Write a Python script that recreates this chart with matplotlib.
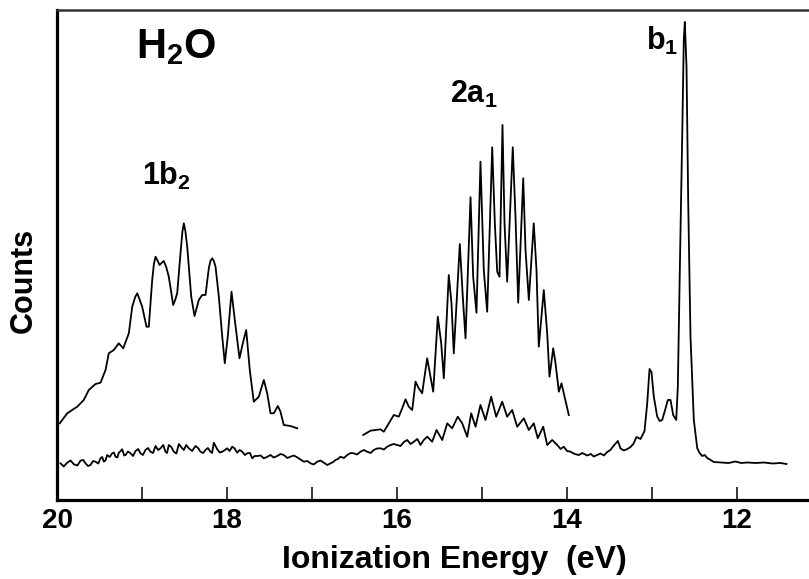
import numpy as np
import matplotlib
matplotlib.use("Agg")
import matplotlib.pyplot as plt
from matplotlib.ticker import MultipleLocator

plt.rcParams['font.family'] = ['Liberation Sans', 'DejaVu Sans']
plt.rcParams['font.weight'] = 'bold'
plt.rcParams['mathtext.fontset'] = 'custom'
plt.rcParams['mathtext.bf'] = 'Liberation Sans:bold'
plt.rcParams['mathtext.rm'] = 'Liberation Sans:bold'
plt.rcParams['mathtext.default'] = 'bf'

# ---- Data (ionization energy in eV, counts in arbitrary units) ----
full_energy = [19.959, 19.92, 19.88, 19.84, 19.802, 19.76, 19.724, 19.69, 19.665, 19.635,
               19.606, 19.575, 19.547, 19.515, 19.488, 19.468, 19.449, 19.43, 19.409, 19.38,
               19.351, 19.33, 19.312, 19.29, 19.273, 19.25, 19.233, 19.21, 19.194, 19.165,
               19.135, 19.105, 19.076, 19.045, 19.018, 18.99, 18.959, 18.93, 18.9, 18.87,
               18.841, 18.81, 18.782, 18.75, 18.724, 18.705, 18.685, 18.655, 18.626, 18.595,
               18.567, 18.535, 18.508, 18.48, 18.449, 18.41, 18.371, 18.34, 18.312, 18.28,
               18.253, 18.225, 18.194, 18.175, 18.155, 18.135, 18.115, 18.085, 18.056, 18.025,
               17.998, 17.97, 17.939, 17.91, 17.88, 17.85, 17.821, 17.79, 17.762, 17.73,
               17.704, 17.675, 17.645, 17.605, 17.567, 17.53, 17.488, 17.45, 17.409, 17.37,
               17.332, 17.29, 17.253, 17.215, 17.174, 17.135, 17.096, 17.055, 17.018, 16.98,
               16.939, 16.9, 16.861, 16.82, 16.782, 16.75, 16.724, 16.695, 16.665, 16.625,
               16.586, 16.545, 16.508, 16.47, 16.429, 16.39, 16.351, 16.31, 16.273, 16.235,
               16.194, 16.155, 16.115, 16.075, 16.038, 15.959, 15.92, 15.88, 15.84, 15.802,
               15.76, 15.724, 15.685, 15.645, 15.586, 15.535,
               15.468, 15.409, 15.351, 15.285, 15.233, 15.174, 15.127, 15.076, 15.018, 14.959,
               14.892, 14.833, 14.762, 14.704, 14.645, 14.586, 14.508, 14.449, 14.391, 14.344,
               14.28, 14.233, 14.174, 14.115, 14.075, 14.038, 13.999, 13.959, 13.91, 13.861,
               13.821, 13.762, 13.72, 13.685, 13.645, 13.606, 13.565, 13.527, 13.49, 13.449,
               13.402, 13.37, 13.332, 13.29, 13.253, 13.22, 13.182, 13.135, 13.088, 13.056,
               13.029, 13.006, 12.979, 12.939, 12.91, 12.88, 12.841, 12.814, 12.782, 12.751, 12.715,
               12.696, 12.673, 12.645, 12.626, 12.614, 12.594, 12.574, 12.547, 12.508, 12.468,
               12.44, 12.409, 12.38, 12.351, 12.31, 12.273, 12.194, 12.1, 12.018, 11.95, 11.88,
               11.78, 11.685, 11.58, 11.488, 11.418]
full_counts = [36.7, 33.5, 37.3, 39.5, 35.7, 34.5, 39.3, 40.0, 36.7, 34.0,
               35.0, 39.0, 38.3, 36.5, 41.7, 43.0, 38.3, 39.5, 45.0, 43.0,
               46.7, 47.5, 43.3, 42.5, 47.3, 49.0, 50.7, 44.5, 45.0, 48.5,
               46.7, 44.0, 49.0, 51.0, 46.7, 45.0, 50.0, 52.0, 48.3, 47.0,
               54.0, 50.0, 51.7, 55.0, 48.3, 47.0, 55.0, 53.0, 48.3, 46.5,
               56.0, 52.5, 50.0, 55.0, 51.7, 49.0, 54.0, 52.0, 48.3, 47.0,
               50.0, 52.0, 48.3, 47.0, 57.3, 54.0, 50.7, 47.5, 48.3, 50.0,
               51.7, 49.0, 53.3, 51.5, 47.3, 50.0, 48.3, 45.0, 46.7, 47.0,
               41.7, 44.0, 44.0, 44.5, 41.7, 43.0, 45.0, 42.5, 44.0, 46.0,
               45.0, 42.0, 43.3, 44.5, 42.7, 40.5, 38.3, 39.0, 36.7, 35.5,
               38.3, 39.5, 37.3, 35.0, 36.7, 38.0, 40.0, 41.0, 43.3, 42.0,
               45.0, 47.0, 46.7, 45.5, 48.3, 50.0, 48.3, 47.0, 50.0, 51.5,
               51.7, 50.5, 53.3, 55.0, 56.0, 54.0, 58.0, 60.0, 56.0, 58.3,
               61.0, 55.0, 60.0, 63.3, 58.3, 70.0,
               60.0, 76.7, 71.7, 83.3, 76.7, 63.3, 86.7, 73.3, 95.0, 80.0,
               103.3, 83.3, 98.3, 83.3, 90.0, 73.3, 81.7, 70.0, 76.7, 61.7,
               73.3, 55.0, 60.0, 55.0, 51.0, 53.3, 49.0, 48.3, 46.0, 45.0,
               47.0, 44.5, 46.0, 43.5, 45.0, 46.5, 44.5, 48.0, 50.0, 54.5,
               59.0, 51.5, 49.5, 51.0, 53.0, 56.0, 63.0, 61.0, 69.0, 97.0,
               131.0, 128.0, 103.5, 83.5, 79.0, 80.0, 91.5, 100.0, 100.0, 85.0, 80.0,
               113.5, 229.0, 362.0, 460.0, 478.0, 433.0, 298.0, 163.0, 80.0, 52.0,
               47.0, 44.0, 45.0, 42.0, 40.0, 38.0, 37.5, 37.0, 38.5, 37.0, 37.5,
               37.0, 37.5, 36.5, 37.0, 36.0]

b2_energy = [19.967, 19.88, 19.762, 19.685, 19.626, 19.547, 19.488, 19.429, 19.391, 19.332,
             19.273, 19.221, 19.155, 19.115, 19.08, 19.056, 19.03, 18.998, 18.947, 18.92,
             18.88, 18.86, 18.841, 18.82, 18.794, 18.77, 18.744, 18.715, 18.685, 18.633,
             18.61, 18.586, 18.547, 18.525, 18.508, 18.49, 18.468, 18.421, 18.382,
             18.332, 18.292, 18.253, 18.214, 18.195, 18.174, 18.155, 18.135, 18.096, 18.056,
             18.026, 17.991, 17.947, 17.908, 17.853, 17.814, 17.774, 17.732, 17.685, 17.626,
             17.567, 17.527, 17.488, 17.449, 17.402, 17.371, 17.332, 17.253, 17.174]
b2_counts = [76.7, 86.7, 93.3, 100.0, 110.0, 116.0, 117.3, 130.0, 146.7, 150.0,
             156.7, 151.7, 166.7, 193.3, 203.0, 206.7, 201.0, 193.3, 173.3, 173.3,
             220.0, 236.0, 243.3, 240.0, 235.0, 237.0, 239.0, 233.0, 223.3, 195.0,
             200.0, 206.7, 246.7, 268.0, 276.7, 269.0, 253.3, 203.3, 184.0,
             200.0, 205.0, 205.0, 231.7, 239.0, 241.7, 239.0, 233.3, 203.3, 163.3,
             136.7, 163.3, 208.3, 180.0, 141.7, 156.7, 170.0, 130.0, 98.3, 103.3,
             120.0, 106.7, 86.7, 86.7, 94.0, 88.3, 75.0, 74.0, 71.7]

a1_energy = [16.398, 16.312, 16.194, 16.155, 16.096, 16.038, 15.979, 15.939, 15.9, 15.861,
             15.821, 15.782, 15.744, 15.704, 15.645, 15.606, 15.574, 15.52, 15.48, 15.449,
             15.391, 15.359, 15.332, 15.261, 15.226, 15.194, 15.135, 15.104, 15.065, 15.018,
             14.979, 14.939, 14.88, 14.849, 14.821, 14.794, 14.759, 14.735, 14.704, 14.638,
             14.606, 14.574, 14.515, 14.488, 14.449, 14.391, 14.359, 14.332, 14.273, 14.233,
             14.206, 14.162, 14.135, 14.096, 14.065, 13.979]
a1_counts = [65.0, 69.3, 70.7, 68.3, 76.7, 85.0, 83.3, 91.7, 100.7, 93.3,
             90.0, 118.3, 111.7, 106.7, 141.7, 123.3, 108.3, 183.3, 156.7, 121.7,
             225.0, 196.7, 146.7, 256.0, 203.3, 161.7, 302.7, 223.3, 187.3, 338.3,
             230.0, 188.3, 352.7, 276.7, 228.3, 223.3, 375.0, 276.7, 218.3, 352.7,
             283.3, 197.3, 321.7, 250.0, 200.0, 276.7, 230.0, 153.3, 210.0, 166.7,
             123.3, 151.7, 136.7, 108.3, 116.7, 85.0]

major_ticks = [20, 18, 16, 14, 12]
tick_labels = ['20', '18', '16', '14', '12']

W, H = 809, 579
fig = plt.figure(figsize=(W / 100, H / 100), dpi=100)
ax = fig.add_axes([57 / W, 79 / H, 752 / W, 490 / H])

lw = 1.3
for e, c in ((full_energy, full_counts), (b2_energy, b2_counts), (a1_energy, a1_counts)):
    ax.plot(e, c, color='black', lw=lw, solid_joinstyle='round')

ax.set_xlim(20, 20 - 752 / 85)
ax.set_ylim(0, 490)

ax.set_xticks(major_ticks)
ax.set_xticklabels(tick_labels)
ax.xaxis.set_minor_locator(MultipleLocator(1))
ax.tick_params(axis='x', which='both', direction='in', length=9.5, width=1.1,
               pad=6, labelsize=20, top=False)
ax.tick_params(axis='y', which='both', left=False, labelleft=False)

ax.spines['left'].set_linewidth(2.3)
ax.spines['bottom'].set_linewidth(2.3)
ax.spines['top'].set_linewidth(1.8)
ax.spines['top'].set_color('#333333')
ax.spines['right'].set_visible(False)

for lab in ax.get_xticklabels():
    lab.set_fontweight('bold')

fig.text(454 / W, 1 - 560 / H, 'Ionization Energy  (eV)', ha='center', va='center',
         fontsize=23, fontweight='bold')
fig.text(24 / W, 1 - 280 / H, 'Counts', ha='center', va='center', rotation=90,
         fontsize=22, fontweight='bold')

ax.text(19.065, 442, r'H$_2$O', fontsize=30, fontweight='bold', ha='left', va='baseline')
ax.text(19.0, 315, r'1b$_2$', fontsize=22, fontweight='bold', ha='left', va='baseline')
ax.text(15.38, 397, r'2a$_1$', fontsize=22, fontweight='bold', ha='left', va='baseline')
ax.text(13.07, 450, r'b$_1$', fontsize=22, fontweight='bold', ha='left', va='baseline')

fig.savefig('out.png', dpi=100)
